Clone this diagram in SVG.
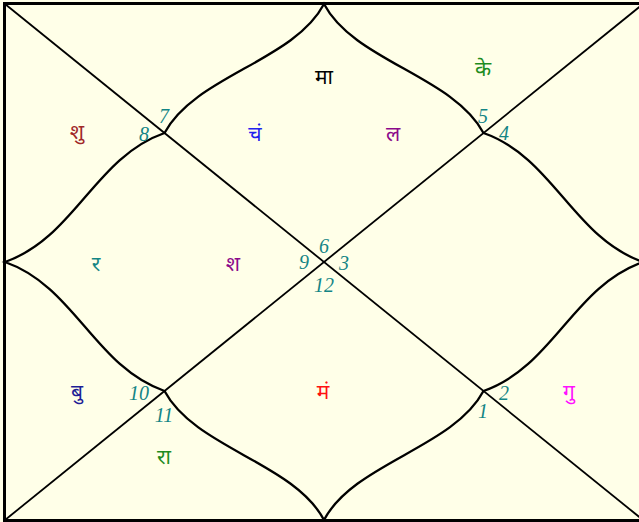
<svg xmlns="http://www.w3.org/2000/svg" width="639" height="522" viewBox="0 0 639 522">
<style>
.num{font-family:"Liberation Serif","DejaVu Serif",serif;font-style:italic;font-size:20px;fill:#138585;text-anchor:middle}
.pl{font-family:"Noto Sans Devanagari","Noto Sans","DejaVu Sans",sans-serif;font-size:21px;text-anchor:middle}
.ln{stroke:#000;stroke-width:1.8;fill:none}
.cv{stroke:#000;stroke-width:2.3;fill:none;stroke-linejoin:miter}
</style>
<rect x="0" y="0" width="639" height="522" fill="#FFFFE8"/>
<g id="frame">
<rect x="4.5" y="3.5" width="638" height="517" fill="#FFFFE8" stroke="#000" stroke-width="3"/>
</g>
<g id="connectors">
<line class="ln" x1="5" y1="4" x2="643" y2="520"/>
<line class="ln" x1="5" y1="520" x2="643" y2="4"/>
<path class="cv" d="M5,262 C75,237.5 94.5,157.5 164.5,133 C195,76 294,61 324,4 C354,61 453,76 483.5,133 C553.5,157.5 573,237.5 643,262 C573,286.5 553.5,366.5 483.5,391 C453,448 354,463 324,520 C294,463 195,448 164.5,391 C94.5,366.5 75,286.5 5,262 Z"/>
</g>
<g id="house-top">
<text class="pl" x="324" y="84" fill="#000">मा</text>
<text class="pl" x="255" y="141" fill="#2222EE">चं</text>
<text class="pl" x="393" y="141" fill="#8B0A8B">ल</text>
<text class="num" x="164" y="123">7</text>
<text class="num" x="483" y="123">5</text>
<text class="num" x="324" y="253">6</text>
</g>
<g id="house-top-right">
<text class="pl" x="483" y="76" fill="#1E8C1E">के</text>
<text class="num" x="504" y="140">4</text>
</g>
<g id="house-top-left">
<text class="pl" x="77" y="139" fill="#A02828">शु</text>
<text class="num" x="144" y="141">8</text>
</g>
<g id="house-left">
<text class="pl" x="96" y="271" fill="#138585">र</text>
<text class="pl" x="233" y="271" fill="#8B0A8B">श</text>
<text class="num" x="304" y="269">9</text>
</g>
<g id="house-right">
<text class="num" x="344" y="270">3</text>
</g>
<g id="house-bottom">
<text class="pl" x="323" y="399" fill="#FF1111">मं</text>
<text class="num" x="324" y="292">12</text>
<text class="num" x="483" y="418">1</text>
<text class="num" x="164" y="422">11</text>
</g>
<g id="house-bottom-left">
<text class="pl" x="77" y="399" fill="#1E1E96">बु</text>
<text class="num" x="139" y="400">10</text>
<text class="pl" x="164" y="464" fill="#1E8C1E">रा</text>
</g>
<g id="house-bottom-right">
<text class="pl" x="569" y="399" fill="#FF11FF">गु</text>
<text class="num" x="504" y="400">2</text>
</g>
</svg>
